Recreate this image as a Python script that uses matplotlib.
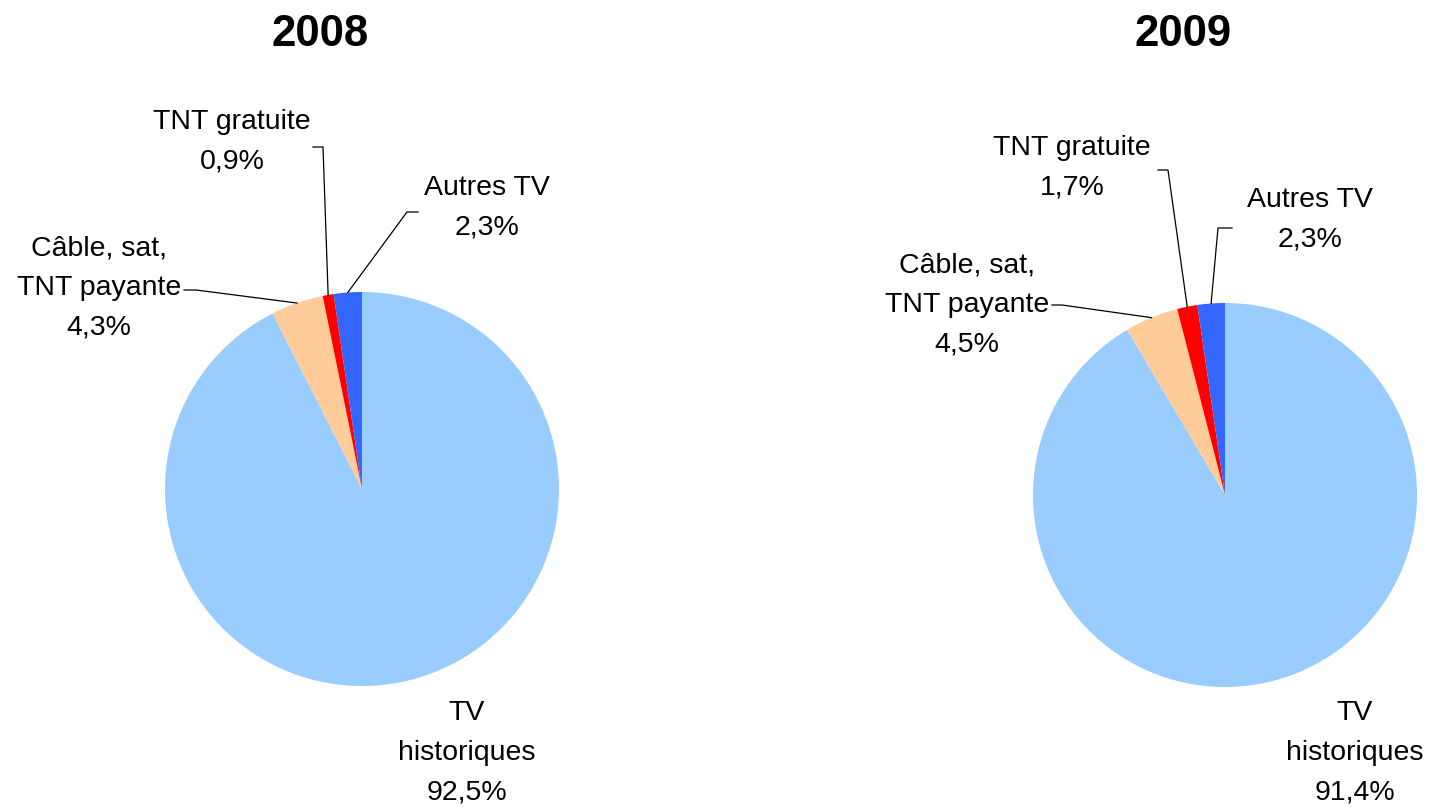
import numpy as np
import matplotlib
matplotlib.use("Agg")
import matplotlib.pyplot as plt

plt.rcParams['font.family'] = ['Liberation Sans', 'DejaVu Sans']

categories = ["TV\nhistoriques", "Câble, sat,\nTNT payante", "TNT gratuite", "Autres TV"]
colors = ["#99CCFF", "#FFCC99", "#FF0000", "#3366FF"]
years = ["2008", "2009"]
shares_2008 = [92.5, 4.3, 0.9, 2.3]
shares_2009 = [91.4, 4.5, 1.7, 2.3]

W, H = 1430, 810


def fmt(v):
    return f"{v:.1f}".replace(".", ",") + "%"


def flip(y):
    return H - y


# layout in pixel coordinates (y measured from top)
layouts = [
    {
        "center": (362, 489), "radius": 197, "title": (320, 35),
        "text": [(467, 753), (99, 288), (232, 142), (487, 208)],
        "leader": [None, [(184, 290), (196, 290)], [(313, 147), (323, 147)], [(418, 212), (407, 212)]],
    },
    {
        "center": (1225, 495), "radius": 192, "title": (1183, 35),
        "text": [(1355, 753), (967, 305), (1072, 168), (1310, 220)],
        "leader": [None, [(1052, 305), (1062, 305)], [(1158, 170), (1168, 170)], [(1232, 228), (1218, 228)]],
    },
]


def main():
    fig = plt.figure(figsize=(W / 100, H / 100), dpi=100)
    ax = fig.add_axes([0, 0, 1, 1])

    for year, shares, lay in zip(years, [shares_2008, shares_2009], layouts):
        cx, cy = lay["center"]
        r = lay["radius"]
        wedges, _ = ax.pie(shares, colors=colors, startangle=90, counterclock=False,
                           center=(cx, flip(cy)), radius=r, frame=True,
                           wedgeprops=dict(linewidth=0))

        ax.text(lay["title"][0], flip(lay["title"][1]), year, ha="center", va="center",
                fontsize=31.5, fontweight="bold")

        for w, cat, val, tpos, lead in zip(wedges, categories, shares, lay["text"], lay["leader"]):
            ax.text(tpos[0], flip(tpos[1]), f"{cat}\n{fmt(val)}", ha="center", va="center",
                    fontsize=20.5, linespacing=1.68, multialignment="center")
            if lead is None:
                continue
            ang = np.deg2rad((w.theta1 + w.theta2) / 2)
            ex = cx + r * np.cos(ang)
            ey = flip(cy) + r * np.sin(ang)
            xs = [p[0] for p in lead] + [ex]
            ys = [flip(p[1]) for p in lead] + [ey]
            ax.plot(xs, ys, color="black", linewidth=0.9)

    ax.set_xlim(0, W)
    ax.set_ylim(0, H)
    ax.set_aspect("equal")
    ax.axis("off")

    fig.savefig("out.png", dpi=100)


if __name__ == "__main__":
    main()
